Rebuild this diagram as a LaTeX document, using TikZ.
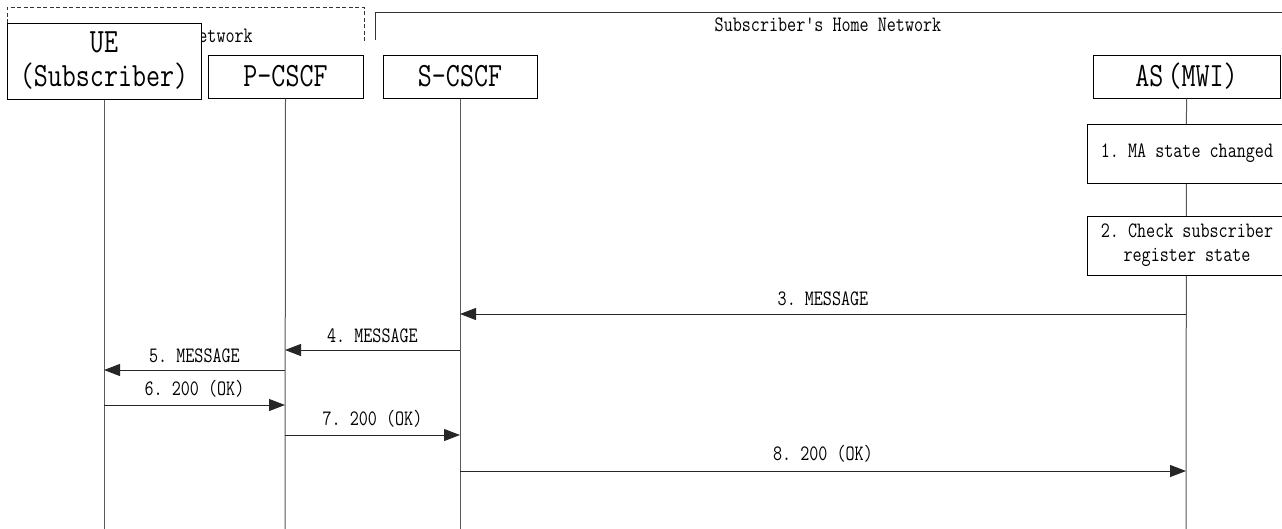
\documentclass[tikz,border=0pt]{standalone}
\usepackage{fontspec}
\usetikzlibrary{arrows.meta}
\newfontfamily\dfont[FakeStretch=0.8]{Latin Modern Mono}
\tikzset{
  ent/.style={draw=black, line width=1pt, fill=white, inner sep=0pt, font=\dfont\fontsize{34}{34}\selectfont, align=center},
  act/.style={draw=black, line width=1pt, fill=white, inner sep=0pt, font=\dfont\fontsize{22}{24}\selectfont, align=center},
  life/.style={draw=gray!70!black, line width=1pt},
  msg/.style={draw=black!85, line width=1pt, -{Triangle[length=16pt,width=12pt]}},
  lbl/.style={font=\dfont\fontsize{22}{22}\selectfont, inner sep=0pt},
  net/.style={draw=black!80, line width=0.8pt}
}
\begin{document}
\begin{tikzpicture}[x=1pt,y=-1pt]
\clip (0,0) rectangle (1282,528);
\fill[white] (0,0) rectangle (1282,528);
% visited network (dashed)
\draw[net, dash pattern=on 4pt off 2.5pt] (7,23) -- (7,7) -- (364,7) -- (364,43);
\node[lbl, anchor=east] (vnl) at (253,36) {Visited Network};
% home network
\draw[net] (375,40) -- (375,12) -- (1290,12);
\node[lbl] (hnl) at (828,25) {Subscriber's Home Network};
% entities
\node[ent, minimum width=194pt, minimum height=76pt] (ue) at (104,61) {UE\\(Subscriber)};
\node[ent, minimum width=155pt, minimum height=43pt] (pc) at (285.5,76.5) {P-CSCF};
\node[ent, minimum width=154pt, minimum height=43pt] (sc) at (460,76.5) {S-CSCF};
\node[ent, minimum width=187pt, minimum height=43pt] (as) at (1186.5,76.5) {AS\hspace{4pt}(MWI)};
% lifeline ends
\coordinate (ueE) at (104,530);
\coordinate (pcE) at (285,530);
\coordinate (scE) at (460,530);
\coordinate (asE) at (1186,530);
\draw[life] (ue.south) -- (ueE);
\draw[life] (pc.south) -- (pcE);
\draw[life] (sc.south) -- (scE);
\draw[life] (as.south) -- (asE);
% actions
\node[act, minimum width=200pt, minimum height=59pt] (a1) at (1187,153.5) {1.\ MA state changed};
\node[act, minimum width=200pt, minimum height=59pt] (a2) at (1187,245.5) {2.\ Check subscriber\\register state};
% message points
\coordinate (as3) at (1186,314); \coordinate (sc3) at (460,314);
\coordinate (sc4) at (460,350); \coordinate (pc4) at (285,350);
\coordinate (pc5) at (285,370); \coordinate (ue5) at (104,370);
\coordinate (ue6) at (104,405); \coordinate (pc6) at (285,405);
\coordinate (pc7) at (285,435); \coordinate (sc7) at (460,435);
\coordinate (sc8) at (460,471); \coordinate (as8) at (1186,471);
\draw[msg] (as3) -- node[lbl, above=8pt] (l3) {3.\ MESSAGE} (sc3);
\draw[msg] (sc4) -- node[lbl, above=7pt] (l4) {4.\ MESSAGE} (pc4);
\draw[msg] (pc5) -- node[lbl, above=7pt] (l5) {5.\ MESSAGE} (ue5);
\draw[msg] (ue6) -- node[lbl, above=7pt] (l6) {6.\ 200 (OK)} (pc6);
\draw[msg] (pc7) -- node[lbl, above=7pt] (l7) {7.\ 200 (OK)} (sc7);
\draw[msg] (sc8) -- node[lbl, above=8pt] (l8) {8.\ 200 (OK)} (as8);
\end{tikzpicture}
\end{document}
